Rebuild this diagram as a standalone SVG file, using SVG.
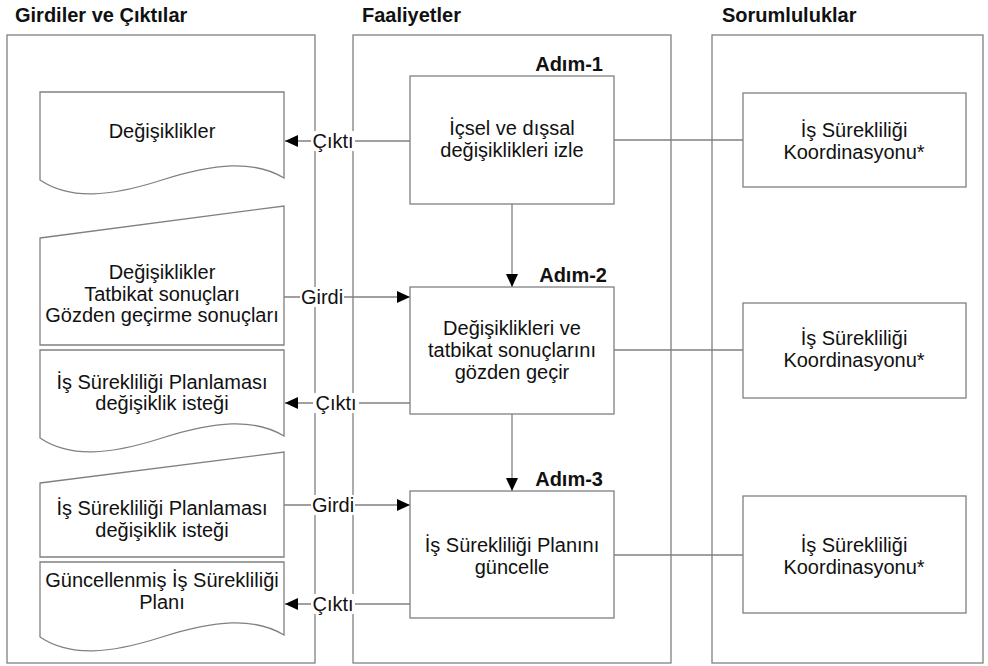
<svg xmlns="http://www.w3.org/2000/svg" width="988" height="666" viewBox="0 0 988 666">
<style>
  .lane{fill:#fff;stroke:#808080;stroke-width:1.3}
  .box{fill:#fff;stroke:#808080;stroke-width:1.3}
  .ln{fill:none;stroke:#808080;stroke-width:1.3}
  .t{font-family:"Liberation Sans",Arial,sans-serif;font-size:20px;fill:#111;text-anchor:middle}
  .h{font-family:"Liberation Sans",Arial,sans-serif;font-size:20px;font-weight:bold;fill:#111}
  .step{font-family:"Liberation Sans",Arial,sans-serif;font-size:20px;font-weight:bold;fill:#111;text-anchor:end}
  .lbl{font-family:"Liberation Sans",Arial,sans-serif;font-size:20px;fill:#111;text-anchor:middle}
  .bg{fill:#fff}
</style>
<defs>
  <marker id="ah" markerWidth="14" markerHeight="12" refX="13" refY="6" orient="auto" markerUnits="userSpaceOnUse">
    <path d="M0,0 L13,6 L0,12 Z" fill="#000"/>
  </marker>
</defs>
<rect width="988" height="666" fill="#fff"/>

<g id="lanes">
  <text class="h" x="15" y="22">Girdiler ve Çıktılar</text>
  <text class="h" x="362" y="22">Faaliyetler</text>
  <text class="h" x="722" y="22">Sorumluluklar</text>
  <rect class="lane" x="7" y="35" width="308" height="628"/>
  <rect class="lane" x="353" y="35" width="318" height="628"/>
  <rect class="lane" x="712" y="35" width="271" height="628"/>
</g>

<g id="connectors">
  <path class="ln" d="M614,140 H743"/>
  <path class="ln" d="M614,350 H743"/>
  <path class="ln" d="M614,555 H743"/>
  <path class="ln" d="M512,204 V287" marker-end="url(#ah)"/>
  <path class="ln" d="M512,414 V491" marker-end="url(#ah)"/>
  <path class="ln" d="M410,141 H285" marker-end="url(#ah)"/>
  <path class="ln" d="M284,297 H410" marker-end="url(#ah)"/>
  <path class="ln" d="M410,403 H285" marker-end="url(#ah)"/>
  <path class="ln" d="M284,505 H410" marker-end="url(#ah)"/>
  <path class="ln" d="M410,604 H285" marker-end="url(#ah)"/>
  <rect class="bg" x="311" y="131" width="44" height="20"/>
  <text class="lbl" x="333" y="148">Çıktı</text>
  <rect class="bg" x="300" y="287" width="44" height="20"/>
  <text class="lbl" x="322" y="304">Girdi</text>
  <rect class="bg" x="313" y="393" width="46" height="20"/>
  <text class="lbl" x="336" y="410">Çıktı</text>
  <rect class="bg" x="311" y="495" width="44" height="20"/>
  <text class="lbl" x="333" y="512">Girdi</text>
  <rect class="bg" x="311" y="594" width="44" height="20"/>
  <text class="lbl" x="333" y="611">Çıktı</text>
</g>

<g id="doc1">
  <path class="box" d="M40,92 H284 V178 C254,160 215,163 162,180 S70,200 40,180 Z"/>
  <text class="t" x="162" y="138">Değişiklikler</text>
</g>
<g id="doc2">
  <path class="box" d="M40,238 L284,206 V345 H40 Z"/>
  <text class="t" x="162" y="279">Değişiklikler</text>
  <text class="t" x="162" y="301">Tatbikat sonuçları</text>
  <text class="t" x="162" y="322">Gözden geçirme sonuçları</text>
</g>
<g id="doc3">
  <path class="box" d="M40,350 H284 V436 C254,418 215,421 162,438 S70,458 40,438 Z"/>
  <text class="t" x="162" y="389">İş Sürekliliği Planlaması</text>
  <text class="t" x="162" y="410">değişiklik isteği</text>
</g>
<g id="doc4">
  <path class="box" d="M40,483 L284,452 V557 H40 Z"/>
  <text class="t" x="162" y="515">İş Sürekliliği Planlaması</text>
  <text class="t" x="162" y="537">değişiklik isteği</text>
</g>
<g id="doc5">
  <path class="box" d="M40,562 H284 V635 C254,617 215,620 162,637 S70,657 40,637 Z"/>
  <text class="t" x="162" y="587">Güncellenmiş İş Sürekliliği</text>
  <text class="t" x="162" y="609">Planı</text>
</g>

<g id="step1">
  <text class="step" x="603" y="71">Adım-1</text>
  <rect class="box" x="410" y="76" width="204" height="128"/>
  <text class="t" x="512" y="135">İçsel ve dışsal</text>
  <text class="t" x="512" y="157">değişiklikleri izle</text>
</g>
<g id="step2">
  <text class="step" x="607" y="282">Adım-2</text>
  <rect class="box" x="410" y="287" width="204" height="127"/>
  <text class="t" x="512" y="335">Değişiklikleri ve</text>
  <text class="t" x="512" y="357">tatbikat sonuçlarını</text>
  <text class="t" x="512" y="379">gözden geçir</text>
</g>
<g id="step3">
  <text class="step" x="603" y="486">Adım-3</text>
  <rect class="box" x="410" y="491" width="204" height="127"/>
  <text class="t" x="512" y="552">İş Sürekliliği Planını</text>
  <text class="t" x="512" y="574">güncelle</text>
</g>

<g id="resp1">
  <rect class="box" x="743" y="93" width="223" height="94"/>
  <text class="t" x="854" y="137">İş Sürekliliği</text>
  <text class="t" x="854" y="159">Koordinasyonu*</text>
</g>
<g id="resp2">
  <rect class="box" x="743" y="303" width="223" height="95"/>
  <text class="t" x="854" y="345">İş Sürekliliği</text>
  <text class="t" x="854" y="367">Koordinasyonu*</text>
</g>
<g id="resp3">
  <rect class="box" x="743" y="496" width="223" height="117"/>
  <text class="t" x="854" y="552">İş Sürekliliği</text>
  <text class="t" x="854" y="574">Koordinasyonu*</text>
</g>
</svg>
